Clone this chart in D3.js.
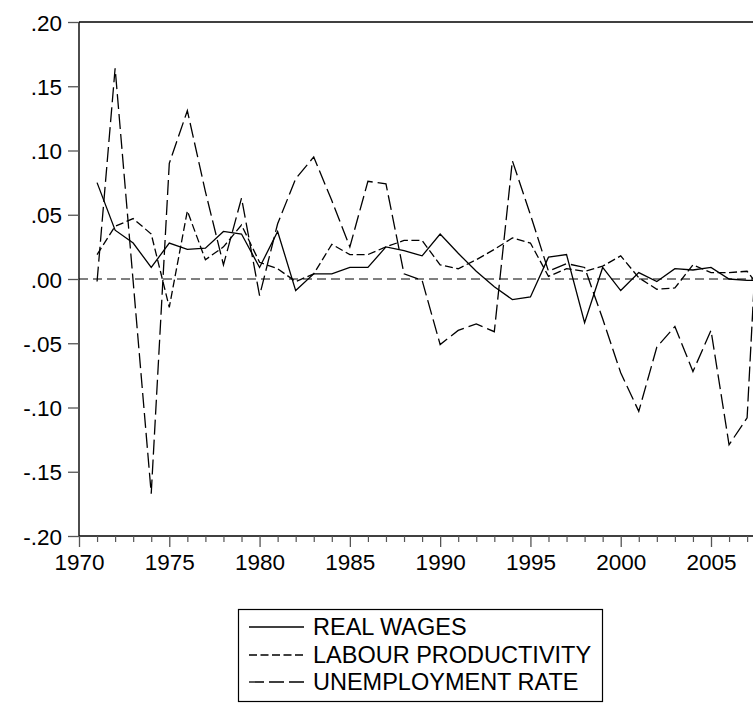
<!DOCTYPE html>
<html>
<head>
<meta charset="utf-8">
<script src="https://cdn.jsdelivr.net/npm/d3@7"></script>
<style>
  html, body { margin: 0; padding: 0; background: #fff; overflow: hidden; }
  svg { display: block; font-family: "Liberation Sans", Arial, sans-serif; }
</style>
</head>
<body>
<svg id="chart" width="753" height="703"></svg>
<script>
// ---- data ----
const years = [1971,1972,1973,1974,1975,1976,1977,1978,1979,1980,
               1981,1982,1983,1984,1985,1986,1987,1988,1989,1990,
               1991,1992,1993,1994,1995,1996,1997,1998,1999,2000,
               2001,2002,2003,2004,2005,2006,2007,2008];
const realWages = [0.075,0.038,0.028,0.009,0.028,0.023,0.024,0.037,0.035,0.009,
                   0.037,-0.009,0.004,0.004,0.009,0.009,0.025,0.022,0.018,0.035,
                   0.020,0.006,-0.006,-0.016,-0.014,0.017,0.019,-0.034,0.009,-0.009,
                   0.005,-0.002,0.008,0.007,0.009,0.000,-0.001,-0.001];
const labourProductivity = [0.019,0.041,0.047,0.035,-0.022,0.053,0.015,0.025,0.042,0.013,
                            0.008,-0.002,0.004,0.027,0.019,0.019,0.025,0.030,0.030,0.011,
                            0.008,0.015,0.023,0.032,0.028,0.002,0.008,0.006,0.010,0.018,
                            0.001,-0.008,-0.007,0.011,0.005,0.005,0.006,-0.012];
const unemploymentRate = [-0.002,0.164,-0.002,-0.167,0.090,0.131,0.068,0.011,0.063,-0.013,
                          0.043,0.078,0.095,0.061,0.025,0.076,0.074,0.004,-0.001,-0.051,
                          -0.040,-0.035,-0.041,0.092,0.050,0.006,0.012,0.009,-0.031,-0.073,
                          -0.103,-0.053,-0.037,-0.072,-0.040,-0.129,-0.108,0.160];
const yTickValues = [0.20,0.15,0.10,0.05,0.00,-0.05,-0.10,-0.15,-0.20];
const yTickLabels = [".20",".15",".10",".05",".00","-.05","-.10","-.15","-.20"];
const xMajorTicks = [1970,1975,1980,1985,1990,1995,2000,2005];
const seriesNames = ["REAL WAGES","LABOUR PRODUCTIVITY","UNEMPLOYMENT RATE"];

// ---- layout ----
const svg = d3.select("#chart");
const plotLeft = 79, plotTop = 22, plotBottom = 536;
const pxPerYear = (711 - 79) / 35;
const x = d3.scaleLinear().domain([1970, 2008]).range([plotLeft, plotLeft + 38 * pxPerYear]);
const y = d3.scaleLinear().domain([-0.2, 0.2]).range([plotBottom, plotTop]);
const W = 753;

const series = [
  { name: seriesNames[0], values: realWages, dash: null },
  { name: seriesNames[1], values: labourProductivity, dash: "8,3.5" },
  { name: seriesNames[2], values: unemploymentRate, dash: "15,5" }
];

// zero line
svg.append("line")
  .attr("x1", plotLeft).attr("x2", W)
  .attr("y1", y(0)).attr("y2", y(0))
  .attr("stroke", "#000").attr("stroke-width", 1)
  .attr("stroke-dasharray", "9,5");

// data lines
const lineGen = (vals) => d3.line()
  .x((d, i) => x(years[i]))
  .y(d => y(d))(vals);

series.forEach(s => {
  svg.append("path")
    .attr("d", lineGen(s.values))
    .attr("fill", "none")
    .attr("stroke", "#000")
    .attr("stroke-width", 1.3)
    .attr("stroke-linejoin", "miter")
    .attr("stroke-dasharray", s.dash);
});

// top frame line
svg.append("line").attr("x1", plotLeft).attr("x2", W).attr("y1", plotTop).attr("y2", plotTop)
  .attr("stroke", "#000").attr("stroke-width", 1.4);

// y axis
const yAxis = d3.axisLeft(y).tickValues(yTickValues).tickSize(11).tickPadding(5)
  .tickFormat((d, i) => yTickLabels[i]);
const gy = svg.append("g").attr("transform", `translate(${plotLeft},0)`).call(yAxis);
gy.select(".domain").attr("stroke-width", 1.4).attr("d", `M-0,${plotTop}H0V${plotBottom}H-0`);
gy.selectAll(".tick line").attr("stroke", "#555").attr("stroke-width", 1.3);
gy.selectAll(".tick text").attr("font-size", 22.5).attr("fill", "#000")
  .attr("font-family", "'Liberation Sans', Arial, sans-serif")
  .attr("dy", "0.36em").attr("x", -17);

// x axis (major ticks)
const xAxis = d3.axisBottom(x).tickValues(xMajorTicks).tickSize(11).tickPadding(7)
  .tickFormat(d3.format("d"));
const gx = svg.append("g").attr("transform", `translate(0,${plotBottom})`).call(xAxis);
gx.select(".domain").attr("stroke-width", 1.4).attr("d", `M${plotLeft},0H${W}`);
gx.selectAll(".tick line").attr("stroke", "#555").attr("stroke-width", 1.3);
gx.selectAll(".tick text").attr("font-size", 22.5).attr("fill", "#000")
  .attr("font-family", "'Liberation Sans', Arial, sans-serif");

// x axis minor ticks (yearly)
const minorYears = d3.range(1971, 2008).filter(v => v % 5 !== 0);
const gm = svg.append("g").attr("transform", `translate(0,${plotBottom})`)
  .call(d3.axisBottom(x).tickValues(minorYears).tickSize(6).tickFormat(""));
gm.select(".domain").remove();
gm.selectAll(".tick line").attr("stroke", "#555").attr("stroke-width", 1.2);

// legend
const lg = svg.append("g");
lg.append("rect").attr("x", 238.5).attr("y", 609.5).attr("width", 364).attr("height", 92)
  .attr("fill", "none").attr("stroke", "#000").attr("stroke-width", 1.2);
const rowY = [627, 655, 682];
series.forEach((s, i) => {
  lg.append("line").attr("x1", 249).attr("x2", 304)
    .attr("y1", rowY[i]).attr("y2", rowY[i])
    .attr("stroke", "#000").attr("stroke-width", 1.3)
    .attr("stroke-dasharray", s.dash);
  lg.append("text").attr("x", 313).attr("y", rowY[i] + 8.3)
    .attr("font-size", 23.5).attr("fill", "#000")
    .text(s.name);
});
</script>
</body>
</html>
